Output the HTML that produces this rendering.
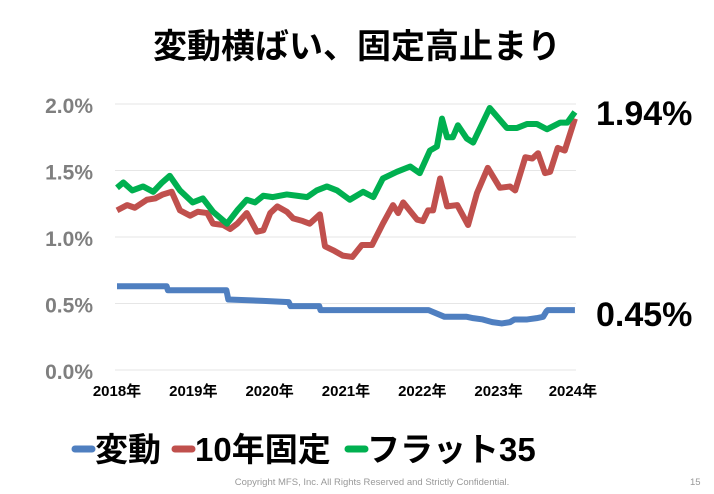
<!DOCTYPE html>
<html><head><meta charset="utf-8"><style>
html,body{margin:0;padding:0;background:#fff;width:714px;height:494px;overflow:hidden}
svg text{font-family:"Liberation Sans","Noto Sans CJK JP",sans-serif}
</style></head><body>
<svg id="chart" width="714" height="494" xmlns="http://www.w3.org/2000/svg">
<text x="357" y="58" text-anchor="middle" font-size="34" font-weight="bold" fill="#000">変動横ばい、固定高止まり</text>
<g id="grid"></g><g id="yticks"></g><g id="xticks"></g><g id="series"></g>
<text x="596" y="125" font-size="34" font-weight="bold" fill="#000">1.94%</text>
<text x="596" y="326" font-size="34" font-weight="bold" fill="#000">0.45%</text>
<g>
<line x1="75" y1="449" x2="92" y2="449" stroke="#4f7fc0" stroke-width="7" stroke-linecap="round"/>
<text x="95" y="461" font-size="33" font-weight="bold" fill="#000">変動</text>
<line x1="175" y1="449" x2="192" y2="449" stroke="#c0504d" stroke-width="7" stroke-linecap="round"/>
<text x="195" y="461" font-size="33" font-weight="bold" fill="#000">10年固定</text>
<line x1="348" y1="449" x2="365" y2="449" stroke="#00b050" stroke-width="7" stroke-linecap="round"/>
<text x="367" y="461" font-size="33" font-weight="bold" fill="#000">フラット35</text>
</g>
<text x="372" y="485" text-anchor="middle" font-size="9.5" fill="#999">Copyright MFS, Inc.  All Rights Reserved and Strictly Confidential.</text>
<text x="690" y="485" font-size="9.5" fill="#999">15</text>
</svg>
<script>
const yTicks=[0,0.5,1.0,1.5,2.0];
const yTickLabels=["0.0%","0.5%","1.0%","1.5%","2.0%"];
const xTickLabels=["2018年","2019年","2020年","2021年","2022年","2023年","2024年"];
const variableMonths=[0,7.8,8,17.2,17.5,23,27,27.3,31.8,32,49,49.5,51.5,55,56,57.5,59,60.5,61.8,62.5,64.5,66,67,67.5,67.7,72];
const variableRates=[0.63,0.63,0.60,0.60,0.53,0.52,0.51,0.48,0.48,0.45,0.45,0.44,0.40,0.40,0.39,0.38,0.36,0.35,0.36,0.38,0.38,0.39,0.40,0.44,0.45,0.45];
const fixed10Months=[0,1.6,2.8,4.7,6,7.2,8.6,9.9,11.5,12.7,14.2,15.1,16.7,17.8,18.9,20.4,22,23,24.1,25.2,26.7,27.7,29.2,30.3,31.9,32.7,34,35.5,37,38.5,40.1,41.8,43.4,44.2,45,47.2,48.1,48.9,49.7,50.8,51.9,53.5,55.2,56.6,58.3,60.2,61.8,62.6,64.2,65.3,66.2,67.3,68.1,69.3,70.4,72];
const fixed10Rates=[1.20,1.24,1.22,1.28,1.29,1.32,1.34,1.20,1.16,1.19,1.18,1.10,1.09,1.06,1.10,1.18,1.04,1.05,1.18,1.23,1.19,1.14,1.12,1.10,1.17,0.93,0.90,0.86,0.85,0.94,0.94,1.10,1.24,1.18,1.26,1.13,1.12,1.20,1.20,1.44,1.23,1.24,1.09,1.33,1.52,1.37,1.38,1.35,1.60,1.59,1.63,1.48,1.49,1.67,1.65,1.89];
const flat35Months=[0,1,2.4,4.1,5.7,7.1,8.3,9.9,11.9,13.5,15.1,17.3,18.9,20.4,21.7,23,24.5,26.7,28.3,29.9,31.4,33,34.6,36.6,38.7,40.3,41.8,44,46.1,47.6,49.2,50.3,51.1,51.9,52.8,53.6,55,56,58.6,61.3,62.9,64.5,66,67.6,69.7,70.8,72];
const flat35Rates=[1.37,1.41,1.35,1.38,1.34,1.41,1.46,1.35,1.26,1.29,1.19,1.10,1.20,1.28,1.26,1.31,1.30,1.32,1.31,1.30,1.35,1.38,1.35,1.28,1.34,1.30,1.44,1.49,1.53,1.48,1.65,1.68,1.89,1.75,1.75,1.84,1.74,1.71,1.97,1.82,1.82,1.85,1.85,1.81,1.86,1.86,1.94];

const NS="http://www.w3.org/2000/svg";
const X0=117,XW=6.36,Y0=370,YH=133;
function xs(m){return X0+m*XW;}
function ys(v){return Y0-v*YH;}
const grid=document.getElementById('grid'),yt=document.getElementById('yticks'),xt=document.getElementById('xticks'),ser=document.getElementById('series');
yTicks.forEach((v,i)=>{
  const l=document.createElementNS(NS,'line');
  
  
  l.setAttribute('x1',115);l.setAttribute('x2',576);l.setAttribute('y1',ys(v));l.setAttribute('y2',ys(v));
  l.setAttribute('stroke','#e6e6e6');l.setAttribute('stroke-width','1');
  grid.appendChild(l);
  const t=document.createElementNS(NS,'text');
  
  
  t.setAttribute('x',93);t.setAttribute('y',ys(v)+9);t.setAttribute('text-anchor','end');
  t.setAttribute('font-size','21');t.setAttribute('font-weight','bold');t.setAttribute('fill','#7f7f7f');
  t.textContent=yTickLabels[i];yt.appendChild(t);
});
xTickLabels.forEach((s,i)=>{
  const t=document.createElementNS(NS,'text');
  
  
  t.setAttribute('x',xs(i*12)+(i==6?-2:0));t.setAttribute('y',396);t.setAttribute('text-anchor','middle');
  t.setAttribute('font-size','15');t.setAttribute('font-weight','bold');t.setAttribute('fill','#000');
  t.textContent=s;xt.appendChild(t);
});
function draw(ms,vs,color,name){
  const p=document.createElementNS(NS,'polyline');
  
  
  p.setAttribute('points',ms.map((m,i)=>xs(m)+','+ys(vs[i])).join(' '));
  p.setAttribute('fill','none');p.setAttribute('stroke',color);p.setAttribute('stroke-width','6');
  p.setAttribute('stroke-linejoin','round');
  ser.appendChild(p);
}
draw(variableMonths,variableRates,'#4f7fc0','variable-rate-line');
draw(fixed10Months,fixed10Rates,'#c0504d','fixed10-rate-line');
draw(flat35Months,flat35Rates,'#00b050','flat35-rate-line');
</script>
</body></html>
